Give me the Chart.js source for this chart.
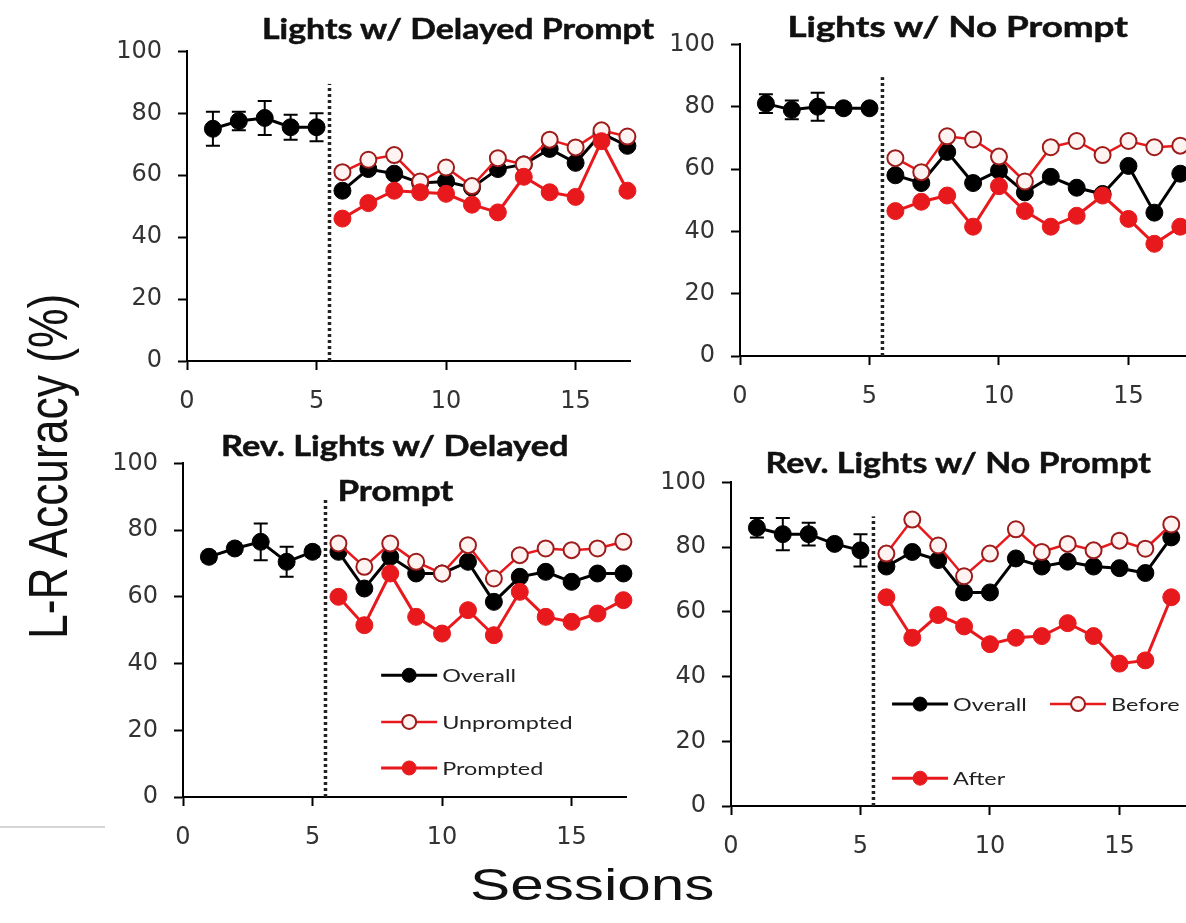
<!DOCTYPE html>
<html>
<head>
<meta charset="utf-8">
<script src="https://cdn.jsdelivr.net/npm/chart.js@4.4.1/dist/chart.umd.min.js"></script>
<style>
html, body { margin: 0; padding: 0; width: 1186px; height: 923px; overflow: hidden; background: #fff; }
.panel { position: absolute; }
.txt { position: absolute; white-space: nowrap; transform-origin: center center; color: #111; line-height: 1.2; }
.title { font-family: Lato, sans-serif; font-weight: 700; font-size: 28px; -webkit-text-stroke: 0.5px #111; }
.axis-title { font-family: "Liberation Sans", Arial, sans-serif; font-size: 44px; }
.rule { position: absolute; left: 0; top: 826px; width: 105px; height: 2px; background: #d6d6d6; }
</style>
</head>
<body>

<div class="panel" style="left:107px;top:21px;width:533px;height:400px"><canvas id="c1"></canvas></div>
<div class="panel" style="left:660px;top:14px;width:551px;height:402px"><canvas id="c2"></canvas></div>
<div class="panel" style="left:103px;top:433px;width:533px;height:424px"><canvas id="c3"></canvas></div>
<div class="panel" style="left:651px;top:452px;width:551px;height:414px"><canvas id="c4"></canvas></div>

<div class="txt title" data-cx="458" data-cy="29" data-w="392">Lights w/ Delayed Prompt</div>
<div class="txt title" data-cx="957" data-cy="27" data-w="340">Lights w/ No Prompt</div>
<div class="txt title" data-cx="394" data-cy="446" data-w="347">Rev. Lights w/ Delayed</div>
<div class="txt title" data-cx="395" data-cy="491" data-w="116">Prompt</div>
<div class="txt title" data-cx="958" data-cy="463" data-w="385">Rev. Lights w/ No Prompt</div>
<div class="txt axis-title" data-cx="592" data-cy="885" data-w="245">Sessions</div>
<div class="txt axis-title" data-cx="48" data-cy="466" data-w="345" data-sy="1.28" data-rot="1">L-R Accuracy (%)</div>
<div class="rule"></div>

<script>
// sessions
const baseSessions = [1, 2, 3, 4, 5];
const treatSessions = [6, 7, 8, 9, 10, 11, 12, 13, 14, 15, 16, 17];
const xTicks = [0, 5, 10, 15];
const yTicks = [0, 20, 40, 60, 80, 100];

// Lights w/ Delayed Prompt
const p1BaseMean = [75, 77.5, 78.5, 75.5, 75.5];
const p1BaseErr = [5.5, 3, 5.5, 4, 4.5];
const p1Overall = [55, 62, 60.5, 57.5, 58, 56, 62, 63.5, 68.5, 64, 73.5, 69.5];
const p1Unprompted = [61, 65, 66.5, 58, 62.5, 56.5, 65.5, 63.5, 71.5, 69, 74.5, 72.5];
const p1Prompted = [46, 51, 55, 54.5, 54, 50.5, 48, 59.5, 54.5, 53, 71, 55];

// Lights w/ No Prompt
const p2BaseMean = [81, 79, 80, 79.5, 79.5];
const p2BaseErr = [3, 3, 4.5, 1.5, 1];
const p2Overall = [58, 55.5, 65.5, 55.5, 59.5, 52.5, 57.5, 54, 52, 61, 46, 58.5];
const p2Unprompted = [63.5, 59, 70.5, 69.5, 64, 56, 67, 69, 64.5, 69, 67, 67.5];
const p2Prompted = [46.5, 49.5, 51.5, 41.5, 54.5, 46.5, 41.5, 45, 51.5, 44, 36, 41.5];

// Rev. Lights w/ Delayed Prompt
const p3BaseMean = [72, 74.5, 76.5, 70.5, 73.5];
const p3BaseErr = [1.5, 1.5, 5.5, 4.5, 1.5];
const p3Overall = [73.5, 62.5, 72, 67, 67, 70.5, 58.5, 66, 67.5, 64.5, 67, 67];
const p3Unprompted = [76, 69, 76, 70.5, 67, 75.5, 65.5, 72.5, 74.5, 74, 74.5, 76.5];
const p3Prompted = [60, 51.5, 67, 54, 49, 56, 48.5, 61.5, 54, 52.5, 55, 59];

// Rev. Lights w/ No Prompt
const p4BaseMean = [86, 84, 84, 81, 79];
const p4BaseErr = [3, 5, 3.5, 1, 5];
const p4Overall = [74, 78.5, 76, 66, 66, 76.5, 74, 75.5, 74, 73.5, 72, 83];
const p4Before = [78, 88.5, 80.5, 71, 78, 85.5, 78.5, 81, 79, 82, 79.5, 87];
const p4After = [64.5, 52, 59, 55.5, 50, 52, 52.5, 56.5, 52.5, 44, 45, 64.5];

const RED = '#e8191c';

function pts(xs, ys) {
    return xs.map((x, i) => ({ x: x, y: ys[i] }));
}

function baselineDs(ys, errs) {
    return {
        label: 'Baseline', data: pts(baseSessions, ys), errors: errs,
        borderColor: '#000', borderWidth: 3,
        pointBackgroundColor: '#000', pointBorderColor: '#000', pointBorderWidth: 1, pointRadius: 8.5,
        order: 3, clip: false
    };
}
function overallDs(ys) {
    return {
        label: 'Overall', data: pts(treatSessions, ys),
        borderColor: '#000', borderWidth: 3,
        pointBackgroundColor: '#000', pointBorderColor: '#000', pointBorderWidth: 1, pointRadius: 8.5,
        order: 2, clip: false
    };
}
function openDs(label, ys) {
    return {
        label: label, data: pts(treatSessions, ys),
        borderColor: RED, borderWidth: 2.5,
        pointBackgroundColor: '#fff3f1', pointBorderColor: '#9e1b1b', pointBorderWidth: 2, pointRadius: 8,
        order: 1, clip: false
    };
}
function filledDs(label, ys) {
    return {
        label: label, data: pts(treatSessions, ys),
        borderColor: RED, borderWidth: 3,
        pointBackgroundColor: RED, pointBorderColor: RED, pointBorderWidth: 1, pointRadius: 8.5,
        order: 0, clip: false
    };
}

// dotted phase-change line at 5.5
const phaseLine = {
    id: 'phaseLine',
    beforeDatasetsDraw(chart, args, opts) {
        const ctx = chart.ctx;
        const x = chart.scales.x.getPixelForValue(opts.x);
        ctx.save();
        ctx.strokeStyle = '#222';
        ctx.lineWidth = 3.5;
        ctx.setLineDash([3, 3]);
        ctx.beginPath();
        ctx.moveTo(x, chart.scales.y.getPixelForValue(0));
        ctx.lineTo(x, chart.scales.y.getPixelForValue(opts.top));
        ctx.stroke();
        ctx.restore();
    }
};

// error bars on baseline sessions
const errorBars = {
    id: 'errorBars',
    afterDatasetsDraw(chart) {
        const ctx = chart.ctx, ys = chart.scales.y;
        chart.data.datasets.forEach((ds, i) => {
            if (!ds.errors) return;
            const meta = chart.getDatasetMeta(i);
            ctx.save();
            ctx.strokeStyle = '#000';
            ctx.lineWidth = 2;
            meta.data.forEach((pt, j) => {
                const v = ds.data[j].y, e = ds.errors[j];
                const top = ys.getPixelForValue(v + e), bot = ys.getPixelForValue(v - e);
                ctx.beginPath();
                ctx.moveTo(pt.x, top); ctx.lineTo(pt.x, bot);
                ctx.moveTo(pt.x - 7, top); ctx.lineTo(pt.x + 7, top);
                ctx.moveTo(pt.x - 7, bot); ctx.lineTo(pt.x + 7, bot);
                ctx.stroke();
            });
            ctx.restore();
        });
    }
};

// legend drawn inside the plot area
const inlineLegend = {
    id: 'inlineLegend',
    afterDatasetsDraw(chart, args, opts) {
        if (!opts.items) return;
        const ctx = chart.ctx, xs = chart.scales.x, ys = chart.scales.y;
        opts.items.forEach(item => {
            const ds = chart.data.datasets[item.ds];
            const cx = xs.getPixelForValue(item.x), cy = ys.getPixelForValue(item.y);
            ctx.save();
            ctx.strokeStyle = ds.borderColor;
            ctx.lineWidth = ds.borderWidth;
            ctx.beginPath();
            ctx.moveTo(cx - 28, cy); ctx.lineTo(cx + 28, cy);
            ctx.stroke();
            ctx.beginPath();
            ctx.arc(cx, cy, 7, 0, Math.PI * 2);
            ctx.fillStyle = ds.pointBackgroundColor;
            ctx.fill();
            ctx.lineWidth = ds.pointBorderWidth;
            ctx.strokeStyle = ds.pointBorderColor;
            ctx.stroke();
            ctx.translate(cx + 33, cy);
            ctx.scale(1.3, 1);
            ctx.font = '18px Lato';
            ctx.fillStyle = '#222';
            ctx.textBaseline = 'middle';
            ctx.fillText(ds.label, 0, 1);
            ctx.restore();
        });
    }
};

function axisCfg(min, max, ticks, fitKey, fitVal) {
    return {
        type: 'linear', min: min, max: max,
        border: { display: true, color: '#000', width: 2 },
        grid: { drawOnChartArea: false, drawTicks: true, tickLength: 9, color: '#000', tickColor: '#000', tickWidth: 2 },
        afterBuildTicks: s => { s.ticks = ticks.map(v => ({ value: v })); },
        ticks: { font: { family: 'DejaVu Sans', size: 24 }, color: '#333', padding: fitKey === 'height' ? 17 : 16, maxRotation: 0, autoSkip: false },
        afterFit: s => { s[fitKey] = fitVal; }
    };
}

function makePanel(id, datasets, xMax, legendItems) {
    return new Chart(document.getElementById(id), {
        type: 'line',
        data: { datasets: datasets },
        options: {
            responsive: true,
            maintainAspectRatio: false,
            animation: false,
            layout: { padding: { top: 20, right: 10, left: 0, bottom: 0 } },
            elements: { line: { tension: 0 } },
            scales: {
                x: axisCfg(0, xMax, xTicks, 'height', 60),
                y: axisCfg(0, 100, yTicks, 'width', 80)
            },
            plugins: {
                legend: { display: false },
                tooltip: { enabled: false },
                phaseLine: { x: 5.5, top: 89.5 },
                inlineLegend: { items: legendItems }
            }
        },
        plugins: [phaseLine, errorBars, inlineLegend]
    });
}

function fitText() {
    document.querySelectorAll('.txt').forEach(el => {
        const w = el.offsetWidth, h = el.offsetHeight;
        const sx = (+el.dataset.w) / w;
        const sy = +(el.dataset.sy || 1);
        const rot = el.dataset.rot ? 'rotate(-90deg) ' : '';
        el.style.left = (el.dataset.cx - w / 2) + 'px';
        el.style.top = (el.dataset.cy - h / 2) + 'px';
        el.style.transform = rot + 'scale(' + sx + ',' + sy + ')';
    });
}

fitText();

makePanel('c1', [
    baselineDs(p1BaseMean, p1BaseErr), overallDs(p1Overall),
    openDs('Unprompted', p1Unprompted), filledDs('Prompted', p1Prompted)
], 17.1, null);

makePanel('c2', [
    baselineDs(p2BaseMean, p2BaseErr), overallDs(p2Overall),
    openDs('Unprompted', p2Unprompted), filledDs('Prompted', p2Prompted)
], 17.8, null);

makePanel('c3', [
    baselineDs(p3BaseMean, p3BaseErr), overallDs(p3Overall),
    openDs('Unprompted', p3Unprompted), filledDs('Prompted', p3Prompted)
], 17.1, [
    { ds: 1, x: 8.73, y: 36.5 },
    { ds: 2, x: 8.73, y: 22.5 },
    { ds: 3, x: 8.73, y: 8.7 }
]);

makePanel('c4', [
    baselineDs(p4BaseMean, p4BaseErr), overallDs(p4Overall),
    openDs('Before', p4Before), filledDs('After', p4After)
], 17.8, [
    { ds: 1, x: 7.3, y: 31.5 },
    { ds: 2, x: 13.4, y: 31.5 },
    { ds: 3, x: 7.3, y: 8.6 }
]);
</script>
</body>
</html>
